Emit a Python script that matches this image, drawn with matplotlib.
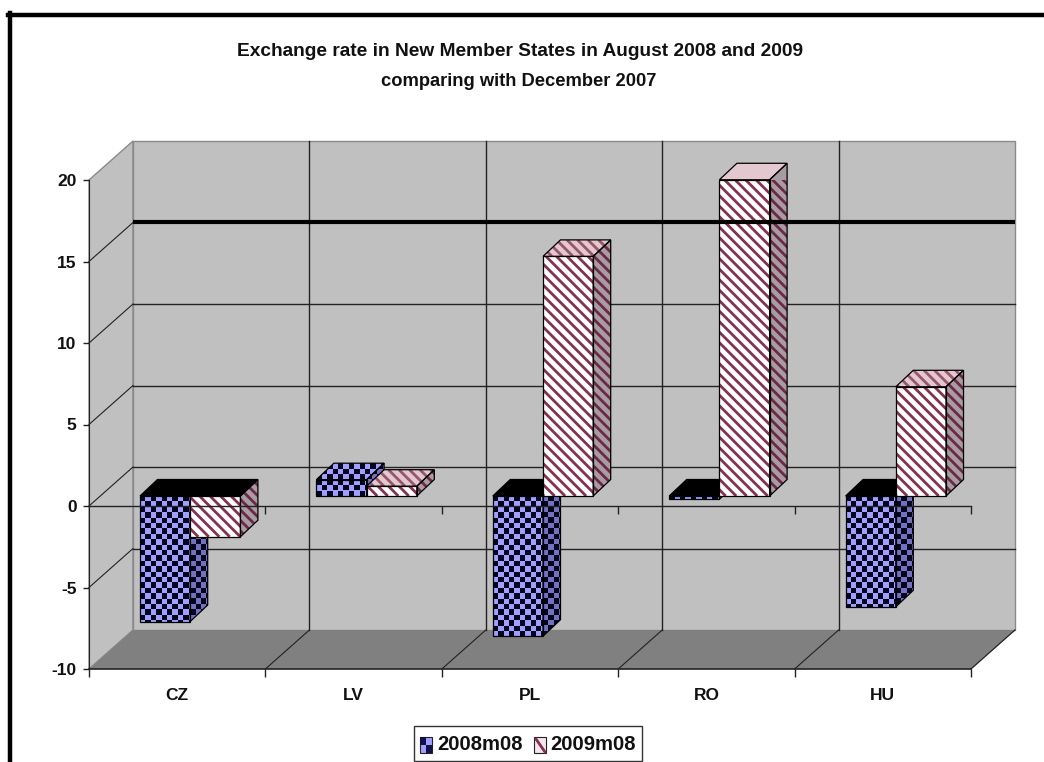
import matplotlib
matplotlib.use('Agg')
import matplotlib.pyplot as plt
from matplotlib.collections import LineCollection, PolyCollection
from matplotlib.patches import Polygon, Rectangle
from matplotlib.transforms import IdentityTransform
import numpy as np

W, H = 1044, 762

countries = ['CZ', 'LV', 'PL', 'RO', 'HU']
rate_2008 = [-7.7, 1.0, -8.6, -0.2, -6.8]
rate_2009 = [-2.5, 0.6, 14.7, 19.4, 6.7]
series_names = ['2008m08', '2009m08']
value_ticks = [-10, -5, 0, 5, 10, 15, 20]
thick_grid_value = 15

BLUE = '#9f9fff'
BLUE_SIDE = '#7272c0'
MAROON = '#84324f'
PINK_TOP = '#e3c8d0'
PINK_SIDE = '#a89ca2'
WALL = '#c0c0c0'
FLOOR = '#808080'
EDGE = '#8a8a8a'
LINE = '#222222'
TEXT = '#111111'

plt.rcParams['font.family'] = ['Liberation Sans']
plt.rcParams['axes.unicode_minus'] = False

fig = plt.figure(figsize=(W / 100, H / 100), dpi=100)
ax = fig.add_axes([89 / W, (H - 669) / H, 882 / W, 489 / H])
ax.set_xlim(0, 5)
ax.set_ylim(-10, 20)
ax.patch.set_visible(False)

X_PX = 5 / 882
V_PX = 30 / 489
WALL_DX, WALL_DY = 44, 39
BAR_DX, BAR_DY = 13, 10
DEPTH_DX, DEPTH_DY = 17.5, 16.5
BAR_GAP = 0.2154
BAR_W = 0.2846


def shift(x, v, dx=0, dy=0):
    return (x + dx * X_PX, v + dy * V_PX)


def poly(points, **kw):
    kw.setdefault('clip_on', False)
    p = Polygon(points, closed=True, **kw)
    ax.add_patch(p)
    return p


def checker(patch, pts, cell=5.4):
    """dark cells on a face, anchored at its first corner, sides in pixels"""
    disp = ax.transData.transform(pts)
    x0, y0 = disp.min(axis=0)
    x1, y1 = disp.max(axis=0)
    cells = []
    for i in range(int((x1 - x0) / cell) + 2):
        for j in range(int((y1 - y0) / cell) + 2):
            if (i + j) % 2 == 0:
                a = x0 + i * cell
                b = y1 - j * cell
                cells.append([(a, b), (a + cell, b), (a + cell, b - cell), (a, b - cell)])
    coll = PolyCollection(cells, facecolors='#05051e', edgecolors='none',
                          transform=IdentityTransform(), zorder=3)
    ax.add_collection(coll, autolim=False)
    coll.set_clip_path(patch)


def stripes(patch, pts, color, period=10.5, lw=2.0):
    """diagonal stripes falling to the right, clipped to a face"""
    disp = ax.transData.transform(pts)
    x0, y0 = disp.min(axis=0)
    x1, y1 = disp.max(axis=0)
    h = y1 - y0
    first = np.floor((x0 - h) / period) * period
    segs = []
    for c in np.arange(first, x1 + period, period):
        segs.append([(c, y1), (c + h, y0)])
    coll = LineCollection(segs, colors=color, linewidths=lw,
                          transform=IdentityTransform(), zorder=3)
    ax.add_collection(coll, autolim=False)
    coll.set_clip_path(patch)


def outline(pts, lw=0.9):
    poly(pts, fill=False, edgecolor='black', linewidth=lw, zorder=3)


def draw_bar(x0, x1, val, series):
    lo, hi = min(val, 0), max(val, 0)
    front = [shift(x0, hi, BAR_DX, BAR_DY), shift(x1, hi, BAR_DX, BAR_DY),
             shift(x1, lo, BAR_DX, BAR_DY), shift(x0, lo, BAR_DX, BAR_DY)]
    d = (BAR_DX + DEPTH_DX, BAR_DY + DEPTH_DY)
    top = [shift(x0, hi, BAR_DX, BAR_DY), shift(x0, hi, *d),
           shift(x1, hi, *d), shift(x1, hi, BAR_DX, BAR_DY)]
    side = [shift(x1, hi, BAR_DX, BAR_DY), shift(x1, hi, *d),
            shift(x1, lo, *d), shift(x1, lo, BAR_DX, BAR_DY)]
    if series == 0:
        p = poly(side, facecolor=BLUE_SIDE, edgecolor='none', zorder=3)
        checker(p, side)
        if val < 0:
            poly(top, facecolor='black', edgecolor='none', zorder=3)
        else:
            p = poly(top, facecolor=BLUE, edgecolor='none', zorder=3)
            checker(p, top)
        p = poly(front, facecolor=BLUE, edgecolor='none', zorder=3)
        checker(p, front)
    else:
        p = poly(side, facecolor=PINK_SIDE, edgecolor='none', zorder=3)
        stripes(p, side, '#6a2a45')
        if val < 0:
            poly(top, facecolor='black', edgecolor='none', zorder=3)
        else:
            p = poly(top, facecolor=PINK_TOP, edgecolor='none', zorder=3)
            stripes(p, top, '#96566c')
        p = poly(front, facecolor='white', edgecolor='none', zorder=3)
        stripes(p, front, MAROON)
    for face in (side, top, front):
        outline(face)


# chart walls and floor
poly([shift(0, -10), shift(0, 20), shift(0, 20, WALL_DX, WALL_DY),
      shift(0, -10, WALL_DX, WALL_DY)], facecolor=WALL, edgecolor=EDGE, linewidth=1, zorder=1)
poly([shift(0, -10, WALL_DX, WALL_DY), shift(0, 20, WALL_DX, WALL_DY),
      shift(5, 20, WALL_DX, WALL_DY), shift(5, -10, WALL_DX, WALL_DY)],
     facecolor=WALL, edgecolor=EDGE, linewidth=1, zorder=1)
poly([shift(0, -10), shift(5, -10), shift(5, -10, WALL_DX, WALL_DY),
      shift(0, -10, WALL_DX, WALL_DY)], facecolor=FLOOR, edgecolor='none', zorder=1)
ax.plot(*zip(shift(5, -10), shift(5, -10, WALL_DX, WALL_DY)), color=LINE, lw=0.9, clip_on=False, zorder=2)

# gridlines on the back wall, with their run across the side wall
for val in value_ticks[1:-1]:
    ax.plot(*zip(shift(0, val), shift(0, val, WALL_DX, WALL_DY)), color=LINE, lw=0.8, clip_on=False, zorder=2)
    if val != thick_grid_value:
        ax.plot(*zip(shift(0, val, WALL_DX, WALL_DY), shift(5, val, WALL_DX, WALL_DY)),
                color=LINE, lw=1.0, clip_on=False, zorder=2)
for k in range(1, 5):
    ax.plot(*zip(shift(k, -10, WALL_DX, WALL_DY), shift(k, 20, WALL_DX, WALL_DY)),
            color=LINE, lw=1.0, clip_on=False, zorder=2)
    ax.plot(*zip(shift(k, -10), shift(k, -10, WALL_DX, WALL_DY)), color=LINE, lw=0.8, clip_on=False, zorder=2)

for i in range(len(countries)):
    x = i + BAR_GAP
    draw_bar(x, x + BAR_W, rate_2008[i], 0)
    draw_bar(x + BAR_W, x + 2 * BAR_W, rate_2009[i], 1)

# heavy line on top of the bars, and the zero axis with its ticks
ax.plot(*zip(shift(0, thick_grid_value, WALL_DX, WALL_DY), shift(5, thick_grid_value, WALL_DX, WALL_DY)),
        color='black', lw=3.0, clip_on=False, zorder=4, solid_capstyle='butt')
ax.axhline(0, color=LINE, lw=1.0, clip_on=False, zorder=4)
ax.vlines(range(1, 6), -0.5, 0, color=LINE, lw=1.0, clip_on=False, zorder=4)

for s in ['top', 'right']:
    ax.spines[s].set_visible(False)
ax.spines['left'].set_color(LINE)
ax.spines['bottom'].set_color(LINE)
ax.spines['bottom'].set_linewidth(1.2)

ax.set_yticks(value_ticks)
ax.set_xticks(np.arange(5) + 0.5, countries)
ax.set_xticks(np.arange(6), minor=True)
ax.tick_params(axis='x', which='major', length=0, pad=14, labelsize=12.5, labelcolor=TEXT)
ax.tick_params(axis='x', which='minor', length=6, width=1, color=LINE)
ax.tick_params(axis='y', length=4, width=1, color=LINE, pad=5, labelsize=12.5, labelcolor=TEXT)
for lab in ax.get_xticklabels() + ax.get_yticklabels():
    lab.set_fontweight('bold')

fig.text(520 / W, 1 - 51 / H, 'Exchange rate in New Member States in August 2008 and 2009',
         ha='center', va='center', fontsize=13.8, fontweight='bold', color=TEXT)
fig.text(519 / W, 1 - 81 / H, 'comparing with December 2007',
         ha='center', va='center', fontsize=13.2, fontweight='bold', color=TEXT)

# page border on the top and left, and the legend, laid out in pixels
page = fig.add_axes([0, 0, 1, 1], facecolor='none', zorder=5)
page.set_xlim(0, W)
page.set_ylim(H, 0)
page.axis('off')
page.plot([10, 10], [13, H], color='black', lw=3.2)
page.plot([8, W], [15, 15], color='black', lw=3.2)

page.add_patch(Rectangle((414, 726), 228, 35, facecolor='white', edgecolor='#333333', lw=1))
page.add_patch(Rectangle((420, 737), 12, 16, facecolor=BLUE, edgecolor='#222222', lw=0.8))
for cx, cy in [(420, 737), (426, 745)]:
    page.add_patch(Rectangle((cx, cy), 6, 8, facecolor='#10104a', edgecolor='none'))
page.add_patch(Rectangle((534, 737), 12, 16, facecolor='#f4e6ec', edgecolor='#222222', lw=0.8))
page.plot([536, 545], [739, 752], color=MAROON, lw=2)
page.text(437, 744, series_names[0], va='center', ha='left', fontsize=14.6, fontweight='bold', color=TEXT)
page.text(550, 744, series_names[1], va='center', ha='left', fontsize=14.6, fontweight='bold', color=TEXT)

fig.savefig('out.png', dpi=100)
